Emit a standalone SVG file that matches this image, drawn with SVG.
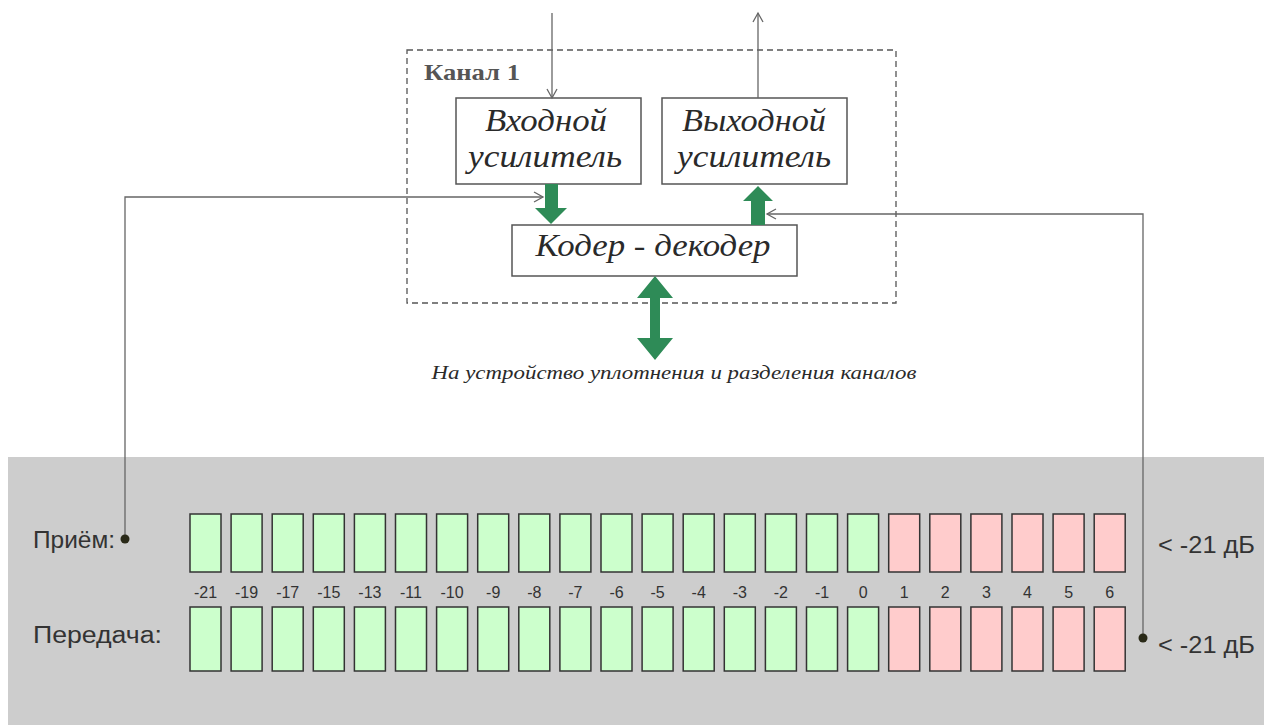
<svg xmlns="http://www.w3.org/2000/svg" width="1264" height="725" viewBox="0 0 1264 725">
<style>
.box{fill:#fff;stroke:#555;stroke-width:1.5}
.it{font-family:"Liberation Serif",serif;font-style:italic;fill:#2a2a2a;text-anchor:middle}
.ln{fill:none;stroke:#666;stroke-width:1.3}
.g{fill:#2e8b57}
.bg{fill:#ccffcc;stroke:#333;stroke-width:1.5}
.bp{fill:#ffcccc;stroke:#333;stroke-width:1.5}
.lab{font-family:"Liberation Sans",sans-serif;font-size:23px;fill:#333}
.num{font-family:"Liberation Sans",sans-serif;font-size:16px;fill:#333;text-anchor:middle}
</style>
<defs>
<marker id="open" markerWidth="12" markerHeight="12" refX="10" refY="6" orient="auto" markerUnits="userSpaceOnUse">
<path d="M1,1 L10,6 L1,11" fill="none" stroke="#666" stroke-width="1.3"/>
</marker>
</defs>
<rect x="8" y="457" width="1256" height="268" fill="#cdcdcd"/>
<g id="channel">
<rect x="407" y="50" width="489" height="253" fill="none" stroke="#555" stroke-width="1.3" stroke-dasharray="6,4"/>
<text x="424" y="80" font-family="Liberation Serif,serif" font-weight="bold" font-size="23" fill="#555" textLength="96" lengthAdjust="spacingAndGlyphs">Канал 1</text>
</g>
<g id="input-amp">
<rect class="box" x="456" y="98" width="185" height="86"/>
<text class="it" x="546" y="131" font-size="32" textLength="122" lengthAdjust="spacingAndGlyphs">Входной</text>
<text class="it" x="545" y="167" font-size="32" textLength="154" lengthAdjust="spacingAndGlyphs">усилитель</text>
</g>
<g id="output-amp">
<rect class="box" x="662" y="98" width="185" height="86"/>
<text class="it" x="754" y="131" font-size="32" textLength="144" lengthAdjust="spacingAndGlyphs">Выходной</text>
<text class="it" x="754" y="167" font-size="32" textLength="154" lengthAdjust="spacingAndGlyphs">усилитель</text>
</g>
<g id="coder">
<rect class="box" x="512" y="225" width="285" height="51"/>
<text class="it" x="653" y="256" font-size="32" textLength="235" lengthAdjust="spacingAndGlyphs">Кодер - декодер</text>
</g>
<g id="mux-label">
<text class="it" x="674" y="379" font-size="18" textLength="485" lengthAdjust="spacingAndGlyphs">На устройство уплотнения и разделения каналов</text>
</g>
<g id="connectors">
<line class="ln" x1="552" y1="13" x2="552" y2="98" marker-end="url(#open)"/>
<line class="ln" x1="758" y1="98" x2="758" y2="13" marker-end="url(#open)"/>
<path class="ln" d="M125,538 V197 H543" marker-end="url(#open)"/>
<path class="ln" d="M1143,638 V214 H767" marker-end="url(#open)"/>
<path class="g" d="M545,184 H558 V208 H567 L551,224 L535,208 H545 Z"/>
<path class="g" d="M751,225 V201 H743 L758,186 L773,201 H765 V225 Z"/>
<path class="g" d="M655,276 L673,298 H660 V338 H673 L655,360 L637,338 H650 V298 H637 Z"/>
<circle cx="125" cy="539" r="4.5" fill="#2a2a18"/>
<circle cx="1143" cy="638" r="4.5" fill="#2a2a18"/>
</g>
<g id="meter">
<text class="lab" x="33" y="548" textLength="82" lengthAdjust="spacingAndGlyphs">Приём:</text>
<text class="lab" x="33" y="643" textLength="129" lengthAdjust="spacingAndGlyphs">Передача:</text>
<text class="lab" x="1158" y="553" textLength="97" lengthAdjust="spacingAndGlyphs">&lt; -21 дБ</text>
<text class="lab" x="1158" y="653" textLength="97" lengthAdjust="spacingAndGlyphs">&lt; -21 дБ</text>
<g id="row-rx">
<rect class="bg" x="190" y="514" width="31" height="58"/>
<rect class="bg" x="231.1" y="514" width="31" height="58"/>
<rect class="bg" x="272.2" y="514" width="31" height="58"/>
<rect class="bg" x="313.3" y="514" width="31" height="58"/>
<rect class="bg" x="354.4" y="514" width="31" height="58"/>
<rect class="bg" x="395.5" y="514" width="31" height="58"/>
<rect class="bg" x="436.6" y="514" width="31" height="58"/>
<rect class="bg" x="477.7" y="514" width="31" height="58"/>
<rect class="bg" x="518.8" y="514" width="31" height="58"/>
<rect class="bg" x="559.9" y="514" width="31" height="58"/>
<rect class="bg" x="601" y="514" width="31" height="58"/>
<rect class="bg" x="642.1" y="514" width="31" height="58"/>
<rect class="bg" x="683.2" y="514" width="31" height="58"/>
<rect class="bg" x="724.3" y="514" width="31" height="58"/>
<rect class="bg" x="765.4" y="514" width="31" height="58"/>
<rect class="bg" x="806.5" y="514" width="31" height="58"/>
<rect class="bg" x="847.6" y="514" width="31" height="58"/>
<rect class="bp" x="888.7" y="514" width="31" height="58"/>
<rect class="bp" x="929.8" y="514" width="31" height="58"/>
<rect class="bp" x="970.9" y="514" width="31" height="58"/>
<rect class="bp" x="1012" y="514" width="31" height="58"/>
<rect class="bp" x="1053.1" y="514" width="31" height="58"/>
<rect class="bp" x="1094.2" y="514" width="31" height="58"/>
</g>
<g id="row-tx">
<rect class="bg" x="190" y="607" width="31" height="64"/>
<rect class="bg" x="231.1" y="607" width="31" height="64"/>
<rect class="bg" x="272.2" y="607" width="31" height="64"/>
<rect class="bg" x="313.3" y="607" width="31" height="64"/>
<rect class="bg" x="354.4" y="607" width="31" height="64"/>
<rect class="bg" x="395.5" y="607" width="31" height="64"/>
<rect class="bg" x="436.6" y="607" width="31" height="64"/>
<rect class="bg" x="477.7" y="607" width="31" height="64"/>
<rect class="bg" x="518.8" y="607" width="31" height="64"/>
<rect class="bg" x="559.9" y="607" width="31" height="64"/>
<rect class="bg" x="601" y="607" width="31" height="64"/>
<rect class="bg" x="642.1" y="607" width="31" height="64"/>
<rect class="bg" x="683.2" y="607" width="31" height="64"/>
<rect class="bg" x="724.3" y="607" width="31" height="64"/>
<rect class="bg" x="765.4" y="607" width="31" height="64"/>
<rect class="bg" x="806.5" y="607" width="31" height="64"/>
<rect class="bg" x="847.6" y="607" width="31" height="64"/>
<rect class="bp" x="888.7" y="607" width="31" height="64"/>
<rect class="bp" x="929.8" y="607" width="31" height="64"/>
<rect class="bp" x="970.9" y="607" width="31" height="64"/>
<rect class="bp" x="1012" y="607" width="31" height="64"/>
<rect class="bp" x="1053.1" y="607" width="31" height="64"/>
<rect class="bp" x="1094.2" y="607" width="31" height="64"/>
</g>
<g id="scale">
<text class="num" x="205.5" y="598">-21</text>
<text class="num" x="246.6" y="598">-19</text>
<text class="num" x="287.7" y="598">-17</text>
<text class="num" x="328.8" y="598">-15</text>
<text class="num" x="369.9" y="598">-13</text>
<text class="num" x="411" y="598">-11</text>
<text class="num" x="452.1" y="598">-10</text>
<text class="num" x="493.2" y="598">-9</text>
<text class="num" x="534.3" y="598">-8</text>
<text class="num" x="575.4" y="598">-7</text>
<text class="num" x="616.5" y="598">-6</text>
<text class="num" x="657.6" y="598">-5</text>
<text class="num" x="698.7" y="598">-4</text>
<text class="num" x="739.8" y="598">-3</text>
<text class="num" x="780.9" y="598">-2</text>
<text class="num" x="822" y="598">-1</text>
<text class="num" x="863.1" y="598">0</text>
<text class="num" x="904.2" y="598">1</text>
<text class="num" x="945.3" y="598">2</text>
<text class="num" x="986.4" y="598">3</text>
<text class="num" x="1027.5" y="598">4</text>
<text class="num" x="1068.6" y="598">5</text>
<text class="num" x="1109.7" y="598">6</text>
</g>
</g>
</svg>
